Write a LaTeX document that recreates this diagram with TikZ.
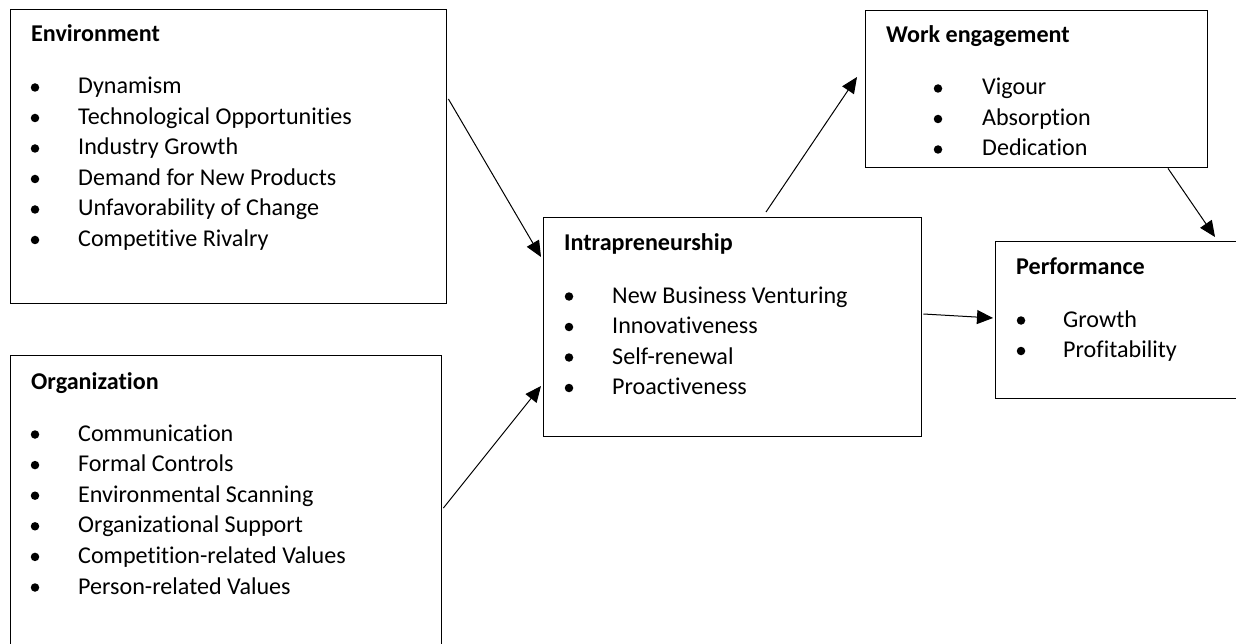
\documentclass[tikz,border=0pt]{standalone}
\usepackage{fontspec}
\setmainfont{Carlito}[Ligatures=NoCommon]
\usetikzlibrary{arrows.meta}
\begin{document}
\begin{tikzpicture}[x=1pt,y=-1pt,
  box/.style={draw=black, line width=1.4pt, inner sep=0pt, anchor=north west},
  title/.style={anchor=base west, inner sep=0pt, font=\fontsize{24.1}{28}\selectfont\bfseries},
  item/.style={anchor=base west, inner sep=0pt, font=\fontsize{24.1}{28}\selectfont},
  dot/.style={circle, fill=black, inner sep=0pt, minimum size=8.5pt},
  link/.style={line width=1pt, -{Triangle[length=16pt,width=14pt]}}]
\useasboundingbox (0,0) rectangle (1236,644);
\clip (0,0) rectangle (1236,644);

% framed groups
\node[box, minimum width=436pt, minimum height=294pt] (env) at (10,9) {};
\node[box, minimum width=431pt, minimum height=292pt] (org) at (10,355) {};
\node[box, minimum width=378pt, minimum height=219pt] (intra) at (543,217) {};
\node[box, minimum width=342pt, minimum height=157pt] (work) at (865,10) {};
\node[box, minimum width=241pt, minimum height=157pt] (perf) at (995,241) {};

% Environment
\node[title] (envT) at (31,42) {Environment};
\foreach \t [count=\i] in {Dynamism, Technological Opportunities, Industry Growth,
    Demand for New Products, Unfavorability of Change, Competitive Rivalry} {
  \node[dot] (envB\i) at (35,{94+30.5*(\i-1)-6.5}) {};
  \node[item] (envI\i) at (78,{94+30.5*(\i-1)}) {\t};
}

% Organization
\node[title] (orgT) at (31,389) {Organization};
\foreach \t [count=\i] in {Communication, Formal Controls, Environmental Scanning,
    Organizational Support, Competition-related Values, Person-related Values} {
  \node[dot] (orgB\i) at (35,{441+30.6*(\i-1)-6.5}) {};
  \node[item] (orgI\i) at (78,{441+30.6*(\i-1)}) {\t};
}

% Intrapreneurship
\node[title] (intraT) at (564,251) {Intrapreneurship};
\foreach \t [count=\i] in {New Business Venturing, Innovativeness, Self-renewal, Proactiveness} {
  \node[dot] (intraB\i) at (569,{303+30.5*(\i-1)-6.5}) {};
  \node[item] (intraI\i) at (612,{303+30.5*(\i-1)}) {\t};
}

% Work engagement
\node[title] (workT) at (886,43) {Work engagement};
\foreach \t [count=\i] in {Vigour, Absorption, Dedication} {
  \node[dot] (workB\i) at (938,{95+30.5*(\i-1)-6.5}) {};
  \node[item] (workI\i) at (982,{95+30.5*(\i-1)}) {\t};
}

% Performance
\node[title] (perfT) at (1016,275) {Performance};
\foreach \t [count=\i] in {Growth, Profitability} {
  \node[dot] (perfB\i) at (1021,{327+30.5*(\i-1)-6.5}) {};
  \node[item] (perfI\i) at (1063,{327+30.5*(\i-1)}) {\t};
}

% connectors (shifts in picture units: y grows downward)
\draw[link] ([shift={(1,90)}]env.north east) -- ([shift={(-2,40)}]intra.north west);
\draw[link] ([shift={(1,153)}]org.north east) -- ([shift={(-2,169)}]intra.north west);
\draw[link] ([shift={(223,-5)}]intra.north west) -- ([shift={(-8,67)}]work.north west);
\draw[link] ([shift={(303,0)}]work.south west) -- ([shift={(220,-4)}]perf.north west);
\draw[link] ([shift={(1,97)}]intra.north east) -- ([shift={(-2,77)}]perf.north west);
\end{tikzpicture}
\end{document}
